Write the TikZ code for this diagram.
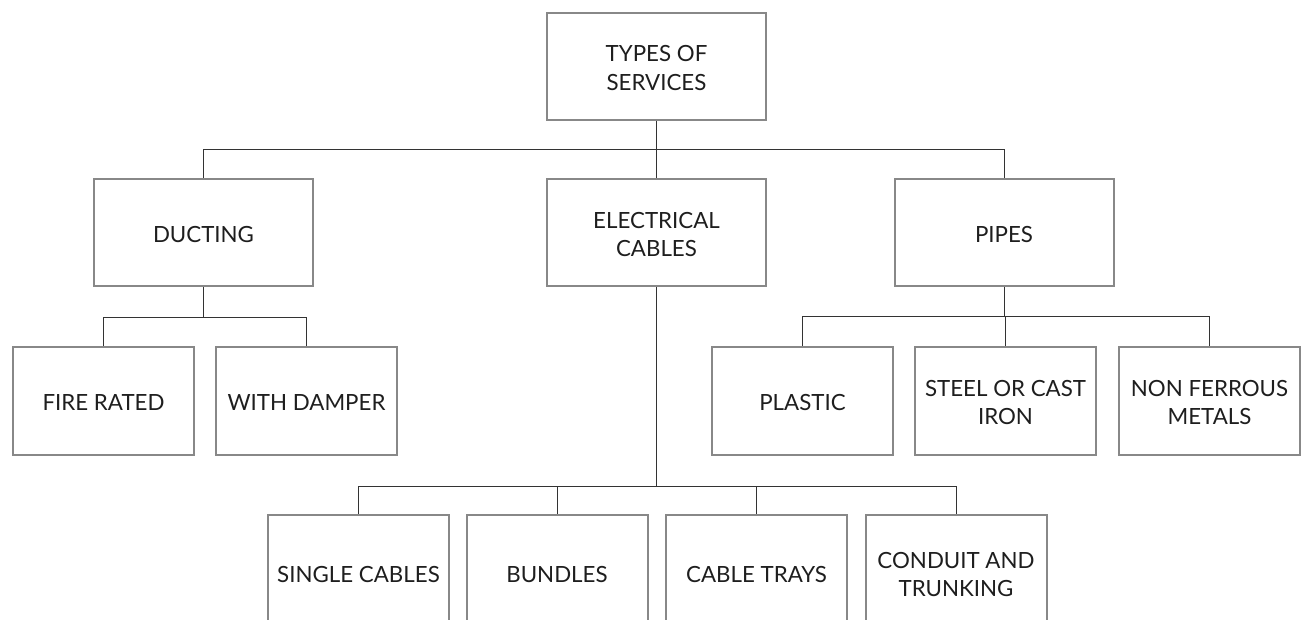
\documentclass[tikz,border=0pt]{standalone}
\usepackage{fontspec}
\setmainfont{Lato}
\newcommand{\boxtxt}[1]{\raisebox{0pt}[\dimexpr\height+7.5pt\relax][\depth]{\begin{tabular}{@{}c@{}}#1\end{tabular}}}
\begin{document}
\begin{tikzpicture}[x=1pt,y=-1pt,
  box/.style={draw=boxgrey, line width=2pt, fill=white, inner sep=0pt,
    text=txt, font=\fontsize{22.3}{28.5}\selectfont},
  bigbox/.style={box, minimum width=219pt, minimum height=107pt},
  smallbox/.style={box, minimum width=181pt, minimum height=108pt},
  lowbox/.style={box, minimum width=181pt, minimum height=116pt},
  conn/.style={draw=linegrey, line width=1pt}]
\definecolor{boxgrey}{HTML}{888888}
\definecolor{linegrey}{HTML}{333333}
\definecolor{txt}{HTML}{1E1E1E}
\useasboundingbox (0,0) rectangle (1309,620);
\clip (0,0) rectangle (1309,620);
\node[bigbox] (top) at (656.5,66.5) {\boxtxt{TYPES OF\\SERVICES}};
\node[bigbox] (duct) at (203.5,233) {\boxtxt{DUCTING}};
\node[bigbox] (elec) at (656.5,233) {\boxtxt{ELECTRICAL\\CABLES}};
\node[bigbox] (pipes) at (1004,233) {\boxtxt{PIPES}};
\node[smallbox] (fire) at (103.5,401) {\boxtxt{FIRE RATED}};
\node[smallbox] (damper) at (306.5,401) {\boxtxt{WITH DAMPER}};
\node[smallbox] (plastic) at (802.5,401) {\boxtxt{PLASTIC}};
\node[smallbox] (steel) at (1005.5,401) {\boxtxt{STEEL OR CAST\\IRON}};
\node[smallbox] (nonfer) at (1209.5,401) {\boxtxt{NON FERROUS\\METALS}};
\node[lowbox] (single) at (358.5,573) {\boxtxt{SINGLE CABLES}};
\node[lowbox] (bundles) at (557,573) {\boxtxt{BUNDLES}};
\node[lowbox] (trays) at (756.5,573) {\boxtxt{CABLE TRAYS}};
\node[lowbox] (conduit) at (956,573) {\boxtxt{CONDUIT AND\\TRUNKING}};
\coordinate (b1) at (656.5,150);
\coordinate (b2) at (203.5,318);
\coordinate (b3) at (1004,317);
\coordinate (b4) at (656.5,486);
\draw[conn] (top.south) -- (b1);
\draw[conn] (b1) -| (duct.north);
\draw[conn] (b1) -| (pipes.north);
\draw[conn] (b1) -- (elec.north);
\draw[conn] (duct.south) -- (b2);
\draw[conn] (b2) -| (fire.north);
\draw[conn] (b2) -| (damper.north);
\draw[conn] (pipes.south) -- (b3);
\draw[conn] (b3) -| (plastic.north);
\draw[conn] (b3) -| (steel.north);
\draw[conn] (b3) -| (nonfer.north);
\draw[conn] (elec.south) -- (b4);
\draw[conn] (b4) -| (single.north);
\draw[conn] (b4) -| (bundles.north);
\draw[conn] (b4) -| (trays.north);
\draw[conn] (b4) -| (conduit.north);
\end{tikzpicture}
\end{document}
